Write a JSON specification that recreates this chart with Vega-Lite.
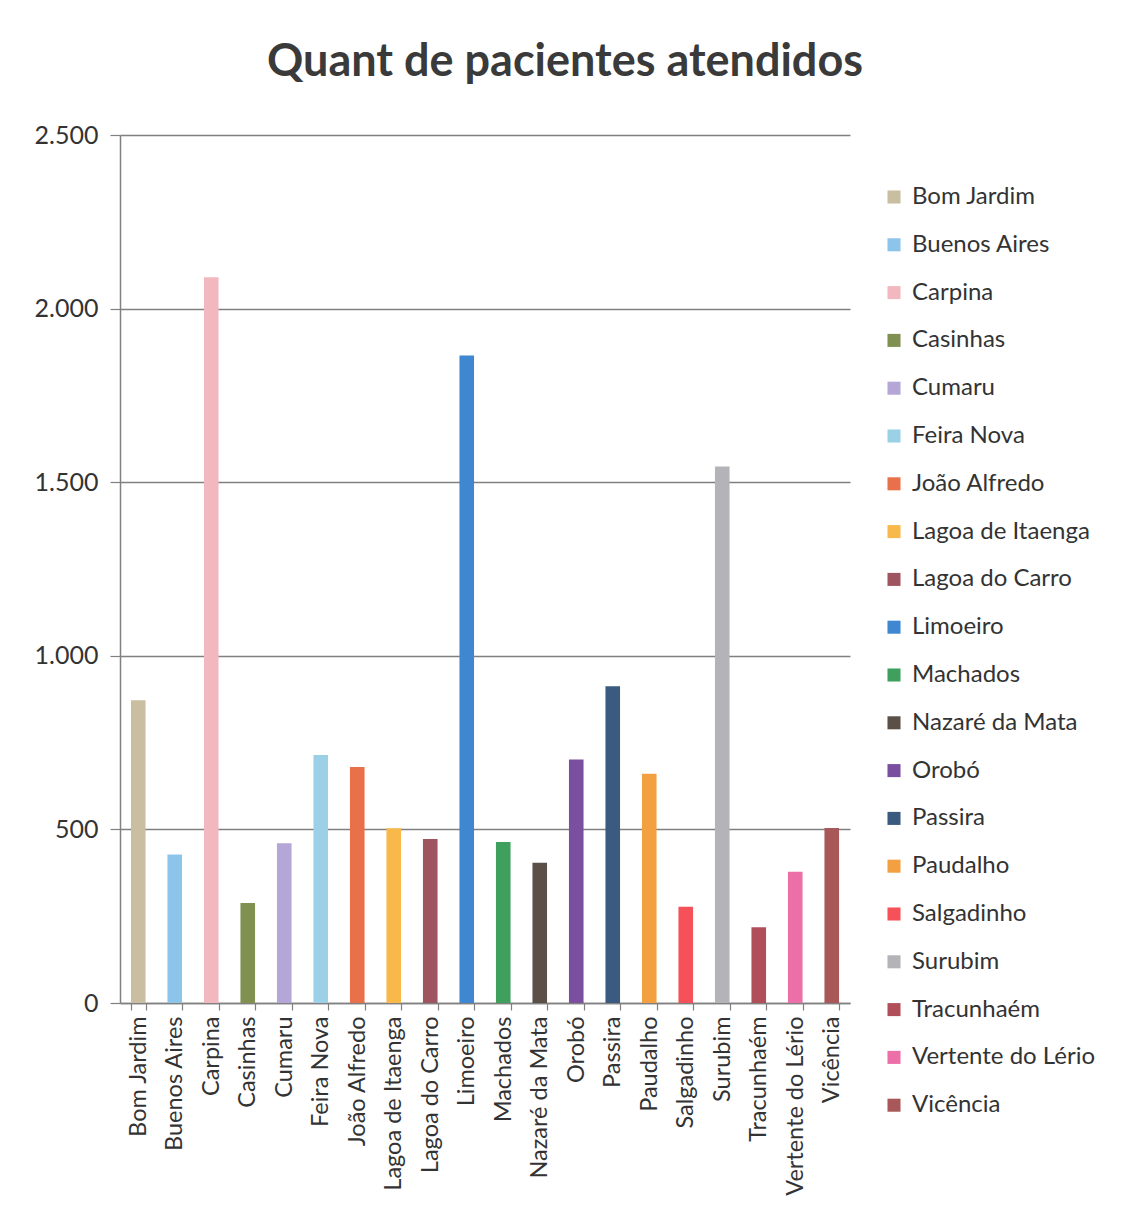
{
  "$schema": "https://vega.github.io/schema/vega-lite/v6.json",
  "autosize": {"type": "none"},
  "width": 730,
  "height": 868,
  "padding": {"left": 120, "top": 135, "right": 290, "bottom": 220},
  "background": "white",
  "title": {
    "text": "Quant de pacientes atendidos",
    "font": "Lato",
    "fontSize": 45,
    "fontWeight": "bold",
    "color": "#3a3a3a",
    "anchor": "middle",
    "dx": 80,
    "offset": 38
  },
  "data": {
    "values": [
      {"municipio": "Bom Jardim", "pacientes": 872},
      {"municipio": "Buenos Aires", "pacientes": 428},
      {"municipio": "Carpina", "pacientes": 2090},
      {"municipio": "Casinhas", "pacientes": 288},
      {"municipio": "Cumaru", "pacientes": 460},
      {"municipio": "Feira Nova", "pacientes": 714},
      {"municipio": "João Alfredo", "pacientes": 680},
      {"municipio": "Lagoa de Itaenga", "pacientes": 503},
      {"municipio": "Lagoa do Carro", "pacientes": 472},
      {"municipio": "Limoeiro", "pacientes": 1865},
      {"municipio": "Machados", "pacientes": 464},
      {"municipio": "Nazaré da Mata", "pacientes": 404},
      {"municipio": "Orobó", "pacientes": 701},
      {"municipio": "Passira", "pacientes": 912},
      {"municipio": "Paudalho", "pacientes": 660},
      {"municipio": "Salgadinho", "pacientes": 277},
      {"municipio": "Surubim", "pacientes": 1545},
      {"municipio": "Tracunhaém", "pacientes": 218},
      {"municipio": "Vertente do Lério", "pacientes": 378},
      {"municipio": "Vicência", "pacientes": 504}
    ]
  },
  "mark": {"type": "bar"},
  "encoding": {
    "x": {
      "field": "municipio",
      "type": "nominal",
      "sort": null,
      "title": null,
      "scale": {"paddingInner": 0.6, "paddingOuter": 0.3},
      "axis": {
        "labelAngle": -90,
        "labelFont": "Lato",
        "labelFontSize": 23.5,
        "labelColor": "#333333",
        "labelPadding": 6,
        "labelLimit": 300,
        "domainColor": "#808080",
        "domainWidth": 1.5,
        "tickColor": "#808080",
        "tickBand": "extent",
        "tickSize": 7,
        "tickWidth": 1.2
      }
    },
    "y": {
      "field": "pacientes",
      "type": "quantitative",
      "title": null,
      "scale": {"domain": [0, 2500]},
      "axis": {
        "values": [0, 500, 1000, 1500, 2000, 2500],
        "labelExpr": "replace(format(datum.value, ',d'), ',', '.')",
        "labelFont": "Lato",
        "labelFontSize": 25,
        "labelColor": "#333333",
        "labelPadding": 12,
        "domainColor": "#808080",
        "domainWidth": 1.5,
        "tickColor": "#808080",
        "tickSize": 10,
        "tickWidth": 1.2,
        "grid": true,
        "gridColor": "#808080",
        "gridWidth": 1.3
      }
    },
    "color": {
      "field": "municipio",
      "type": "nominal",
      "sort": null,
      "title": null,
      "scale": {
        "domain": ["Bom Jardim", "Buenos Aires", "Carpina", "Casinhas", "Cumaru", "Feira Nova", "João Alfredo", "Lagoa de Itaenga", "Lagoa do Carro", "Limoeiro", "Machados", "Nazaré da Mata", "Orobó", "Passira", "Paudalho", "Salgadinho", "Surubim", "Tracunhaém", "Vertente do Lério", "Vicência"],
        "range": ["#c9bea0", "#8cc4ea", "#f2b8c0", "#7f9050", "#b4a6d6", "#9bd0e6", "#e8704a", "#f9b84a", "#9e5560", "#3f87d0", "#3fa05e", "#5a5048", "#7a4fa0", "#3a5a80", "#f2a040", "#f65058", "#b4b4b8", "#b04f5a", "#ec6fa8", "#a85858"]
      },
      "legend": {
        "orient": "none",
        "legendX": 762,
        "legendY": 50,
        "symbolType": "square",
        "symbolSize": 170,
        "symbolStrokeWidth": 0,
        "labelFont": "Lato",
        "labelFontSize": 24,
        "labelColor": "#333333",
        "labelOffset": 6,
        "rowPadding": 23.8,
        "labelLimit": 300
      }
    }
  },
  "config": {
    "view": {"stroke": null}
  }
}
